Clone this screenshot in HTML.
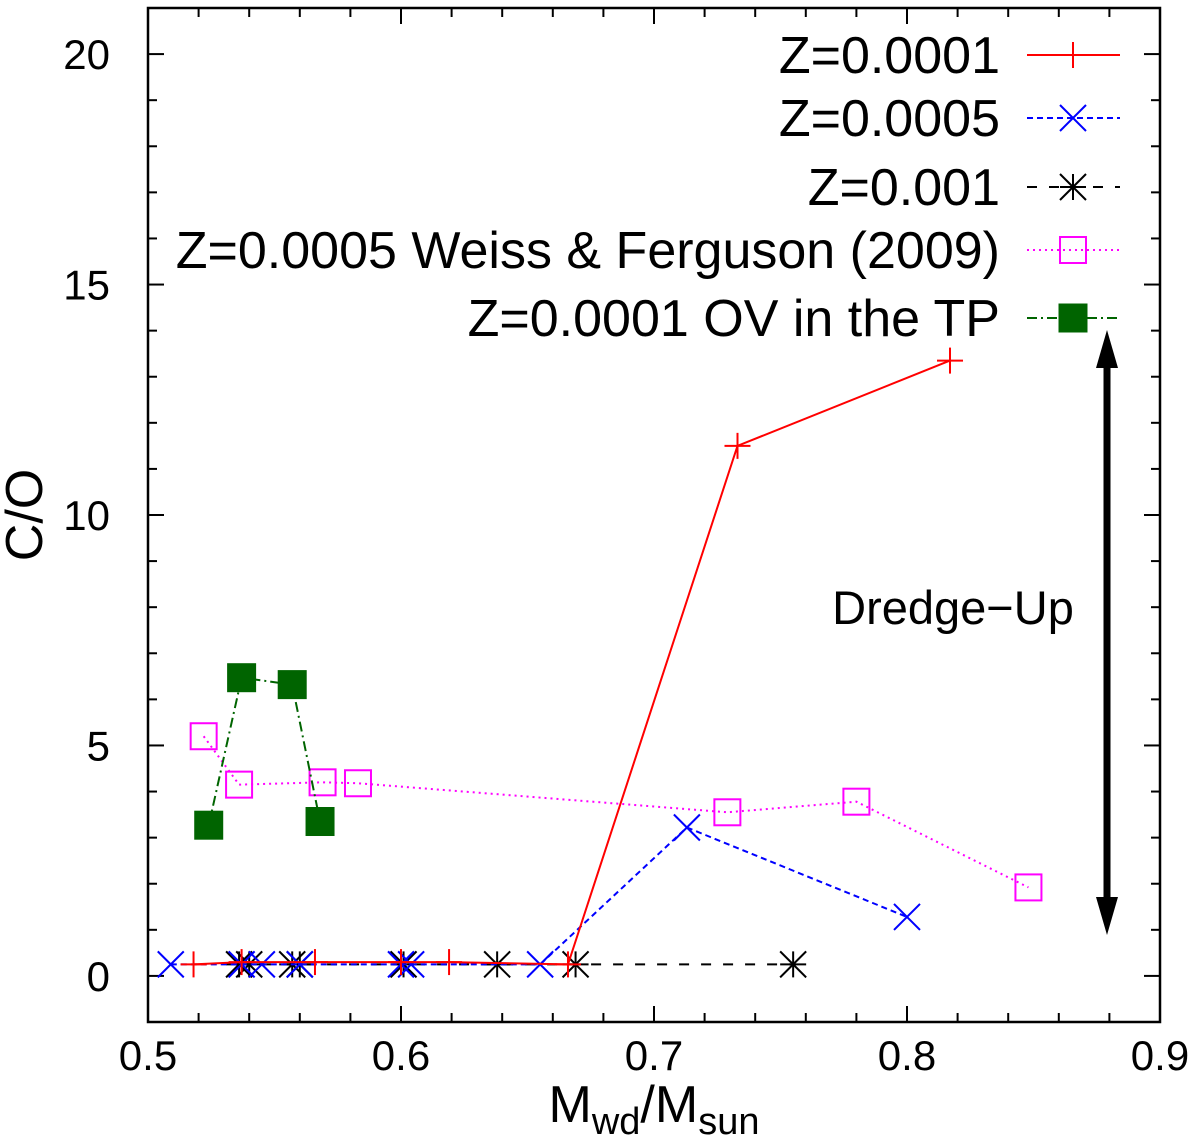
<!DOCTYPE html>
<html><head><meta charset="utf-8"><style>
html,body{margin:0;padding:0;background:#fff;}
svg{display:block;font-family:"Liberation Sans",sans-serif;}
</style></head><body>
<svg id="chart" width="1200" height="1139" viewBox="0 0 1200 1139"></svg>
<script>
const redX=[0.518,0.537,0.566,0.600,0.619,0.666,0.733,0.817];
const redY=[0.25,0.3,0.3,0.3,0.3,0.25,11.5,13.35];
const blueX=[0.509,0.537,0.545,0.560,0.600,0.604,0.655,0.713,0.800];
const blueY=[0.25,0.25,0.25,0.25,0.25,0.25,0.25,3.22,1.28];
const blackX=[0.536,0.540,0.557,0.560,0.601,0.638,0.669,0.755];
const blackY=[0.25,0.25,0.25,0.25,0.25,0.25,0.25,0.25];
const magX=[0.522,0.536,0.569,0.583,0.729,0.780,0.848];
const magY=[5.2,4.15,4.2,4.18,3.55,3.78,1.92];
const greenX=[0.524,0.537,0.557,0.568];
const greenY=[3.27,6.47,6.32,3.35];
const xTicks=[0.5,0.6,0.7,0.8,0.9];
const yTicks=[0,5,10,15,20];

const L=148,R=1160,T=8,B=1022,xmin=0.5,xmax=0.9,ymin=-1,ymax=21;
const sx=v=>L+(v-xmin)/(xmax-xmin)*(R-L);
const sy=v=>B-(v-ymin)/(ymax-ymin)*(B-T);
const svg=document.getElementById('chart');
const NS='http://www.w3.org/2000/svg';
function mk(tag,attrs,parent){const e=document.createElementNS(NS,tag);for(const k in attrs)e.setAttribute(k,attrs[k]);(parent||svg).appendChild(e);return e;}

const tg=mk('g',{stroke:'#000','stroke-width':2});


for(let v=0.5;v<=0.9001;v+=0.02){const x=sx(v);const major=Math.abs((v*10)-Math.round(v*10))<1e-6;const len=major?16:9;
mk('line',{x1:x,y1:B,x2:x,y2:B-len},tg);mk('line',{x1:x,y1:T,x2:x,y2:T+len},tg);}
for(let v=-1;v<=21;v++){const y=sy(v);const len=(v%5===0)?16:9;
mk('line',{x1:L,y1:y,x2:L+len,y2:y},tg);mk('line',{x1:R,y1:y,x2:R-len,y2:y},tg);}
xTicks.forEach(v=>{const t=mk('text',{x:sx(v),y:1070,'font-size':42,'text-anchor':'middle'});t.textContent=v.toFixed(1);
});
yTicks.forEach(v=>{const t=mk('text',{x:110,y:sy(v)+15,'font-size':42,'text-anchor':'end'});t.textContent=v;
});
const frame=mk('rect',{x:L,y:T,width:R-L,height:B-T,fill:'none',stroke:'#000','stroke-width':2.5});


const xt=mk('text',{x:654,y:1122,'font-size':52,'text-anchor':'middle'});
xt.innerHTML='M<tspan font-size="38" dy="12">wd</tspan><tspan dy="-12">/M</tspan><tspan font-size="38" dy="12">sun</tspan>';

const yt=mk('text',{x:0,y:0,'font-size':52,'text-anchor':'middle',transform:'translate(42,515) rotate(-90)'});
yt.textContent='C/O';


function marker(g,type,x,y,color){
  const s=13;
  if(type==='plus'){mk('line',{x1:x-s,y1:y,x2:x+s,y2:y,stroke:color,'stroke-width':2},g);mk('line',{x1:x,y1:y-s,x2:x,y2:y+s,stroke:color,'stroke-width':2},g);}
  else if(type==='x'){mk('line',{x1:x-s,y1:y-s,x2:x+s,y2:y+s,stroke:color,'stroke-width':2},g);mk('line',{x1:x-s,y1:y+s,x2:x+s,y2:y-s,stroke:color,'stroke-width':2},g);}
  else if(type==='star'){marker(g,'plus',x,y,color);marker(g,'x',x,y,color);}
  else if(type==='sq'){mk('rect',{x:x-13,y:y-13,width:26,height:26,fill:'none',stroke:color,'stroke-width':2},g);}
  else if(type==='fsq'){mk('rect',{x:x-14,y:y-14,width:28,height:28,fill:color,stroke:color,'stroke-width':1},g);}
}
function series(name,xs,ys,color,dash,type,ly,label){
  const g=mk('g',{});
  
  const pts=xs.map((v,i)=>sx(v)+','+sy(ys[i])).join(' ');
  mk('polyline',{points:pts,fill:'none',stroke:color,'stroke-width':2,'stroke-dasharray':dash},g);
  xs.forEach((v,i)=>marker(g,type,sx(v),sy(ys[i]),color));
  const lg=mk('g',{});
  
  const t=mk('text',{x:1000,y:ly+18,'font-size':52,'text-anchor':'end'},lg);t.textContent=label;
  mk('line',{x1:1027,y1:ly,x2:1120,y2:ly,stroke:color,'stroke-width':2,'stroke-dasharray':dash},lg);
  marker(lg,type,1073,ly,color);
}
series('series-z0.0005-wf2009',magX,magY,'#ff00ff','2,4','sq',250,'Z=0.0005 Weiss & Ferguson (2009)');
series('series-z0.0001-ov',greenX,greenY,'#006400','10,4,2,4','fsq',318,'Z=0.0001 OV in the TP');
series('series-z0.001',blackX,blackY,'#000','10,12','star',187,'Z=0.001');
series('series-z0.0005',blueX,blueY,'#0000ff','6,4','x',118,'Z=0.0005');
series('series-z0.0001',redX,redY,'#ff0000','','plus',55,'Z=0.0001');

const ag=mk('g',{});

mk('line',{x1:1107,y1:362,x2:1107,y2:905,stroke:'#000','stroke-width':7},ag);
mk('polygon',{points:'1107,330 1096,368 1118,368',fill:'#000'},ag);
mk('polygon',{points:'1107,935 1096,897 1118,897',fill:'#000'},ag);
const du=mk('text',{x:953,y:624,'font-size':47,'text-anchor':'middle'});du.textContent='Dredge\u2212Up';

</script>
</body></html>
